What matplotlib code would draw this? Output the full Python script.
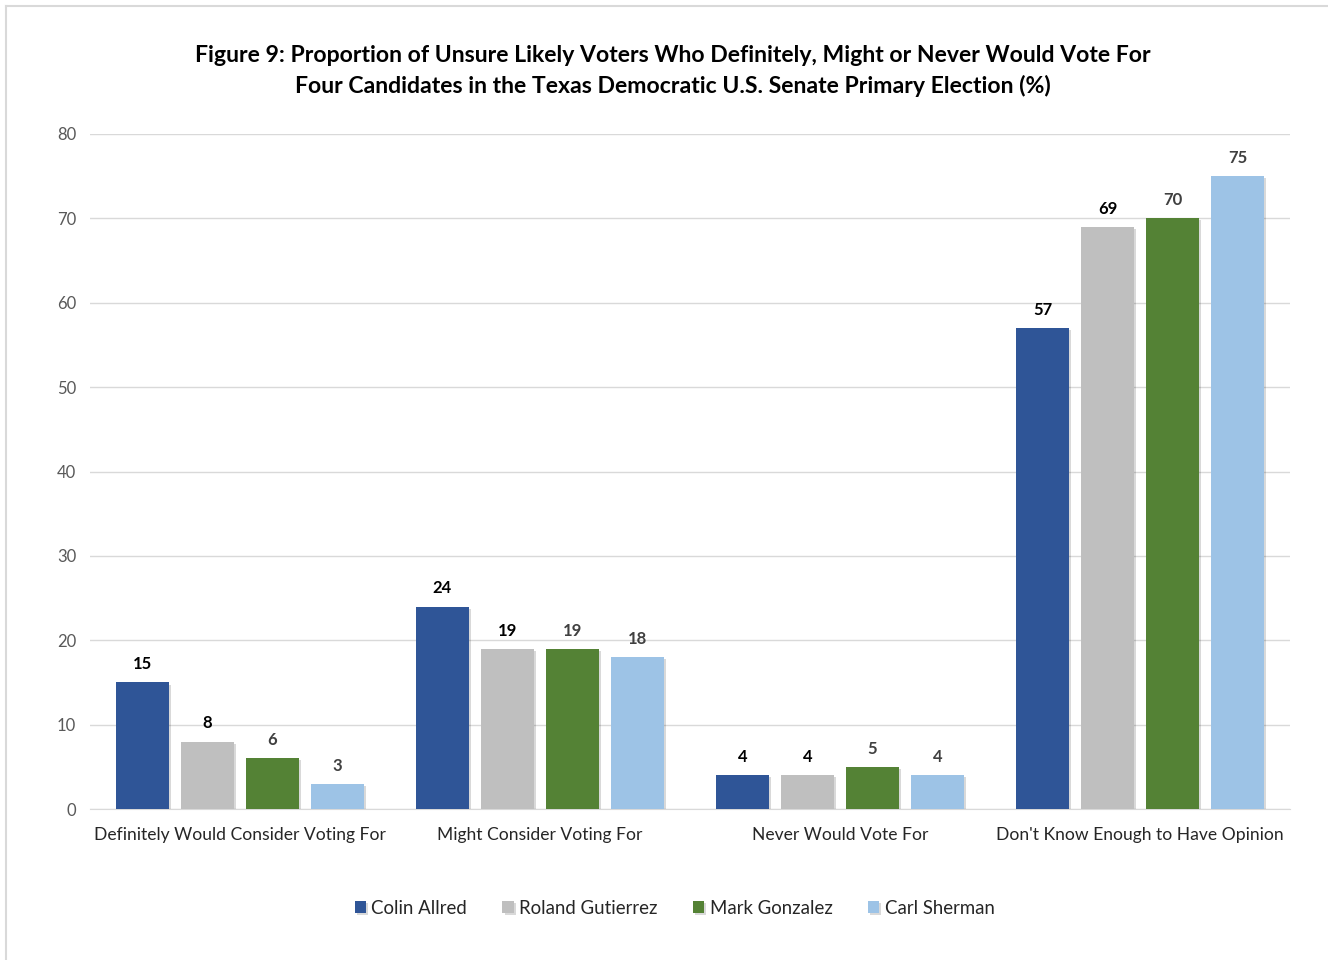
import matplotlib
matplotlib.use("Agg")
import matplotlib.pyplot as plt
import matplotlib.patheffects as pe
from matplotlib.lines import Line2D
import numpy as np

categories = ["Definitely Would Consider Voting For", "Might Consider Voting For",
              "Never Would Vote For", "Don't Know Enough to Have Opinion"]
series_names = ["Colin Allred", "Roland Gutierrez", "Mark Gonzalez", "Carl Sherman"]
colin = [15, 24, 4, 57]
roland = [8, 19, 4, 69]
mark = [6, 19, 5, 70]
carl = [3, 18, 4, 75]
yticks = [0, 10, 20, 30, 40, 50, 60, 70, 80]
title = ("Figure 9: Proportion of Unsure Likely Voters Who Definitely, Might or Never Would Vote For\n"
         "Four Candidates in the Texas Democratic U.S. Senate Primary Election (%)")

colors = ["#2F5597", "#BFBFBF", "#548235", "#9DC3E6"]
label_colors = ["#000000", "#000000", "#404040", "#404040"]

plt.rcParams['font.family'] = ['Lato', 'DejaVu Sans']

fig = plt.figure(figsize=(13.28, 9.6), dpi=100)
# partial frame (top and left edges only)
fig.lines.append(Line2D([6/1328, 1.0], [1 - 6/960, 1 - 6/960], transform=fig.transFigure,
                        color="#D9D9D9", linewidth=1.5))
fig.lines.append(Line2D([6/1328, 6/1328], [0, 1 - 6/960], transform=fig.transFigure,
                        color="#D9D9D9", linewidth=1.5))
ax = fig.add_axes([90/1328, 151/960, 1200/1328, 675/960])

x = np.arange(len(categories))
pitch = 0.2167
width = 0.177
all_series = [colin, roland, mark, carl]
for i, (vals, name) in enumerate(zip(all_series, series_names)):
    pos = x + (i - 1.5) * pitch
    bars = ax.bar(pos, vals, width=width, color=colors[i], label=name, zorder=3)
    for b in bars:
        b.set_path_effects([pe.SimplePatchShadow(offset=(1.5, -1.5), shadow_rgbFace="#000000", alpha=0.15), pe.Normal()])
    for p, v in zip(pos, vals):
        ax.text(p, v + 1.2, str(v), ha="center", va="bottom", fontsize=12,
                fontweight="bold", color=label_colors[i])

ax.set_xlim(-0.5, 3.5)
ax.set_ylim(0, 80)
ax.set_yticks(yticks)
ax.set_xticks(x)
ax.set_xticklabels(categories, fontsize=12.6, color="#262626")
ax.tick_params(axis="y", labelsize=12, labelcolor="#595959", length=0, pad=10)
ax.tick_params(axis="x", length=0, pad=13)
ax.grid(axis="y", color="#D9D9D9", linewidth=1, zorder=0)
for s in ["top", "right", "left"]:
    ax.spines[s].set_visible(False)
ax.spines["bottom"].set_color("#D9D9D9")

fig.text(0.507, 1 - 71/960, title, ha="center", va="center", fontsize=16.6,
         fontweight="bold", color="#000000", linespacing=1.45)

leg = fig.legend(loc="center", bbox_to_anchor=(0.508, 1 - 908/960), ncol=4, frameon=False,
                 fontsize=13.4, handlelength=0.6, handleheight=0.6, handletextpad=0.3,
                 columnspacing=1.9)
for t in leg.get_texts():
    t.set_color("#262626")

fig.savefig("out.png", dpi=100, facecolor="white")
